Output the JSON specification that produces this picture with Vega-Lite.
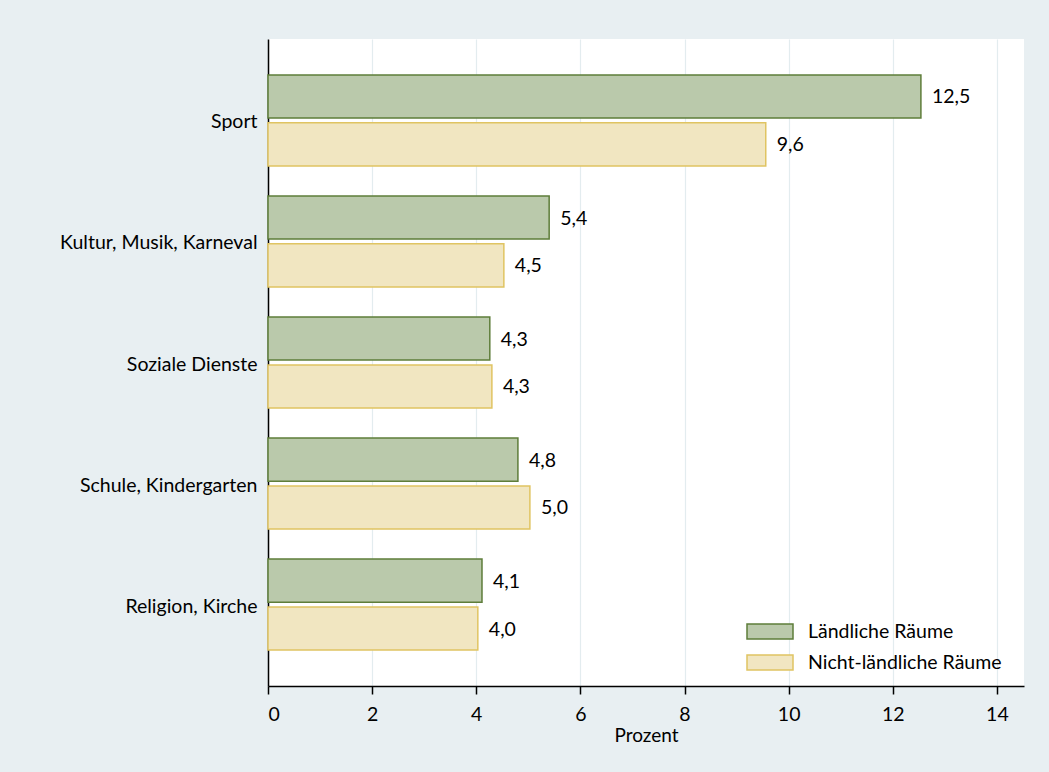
{
  "$schema": "https://vega.github.io/schema/vega-lite/v6.json",
  "width": 756,
  "height": 647,
  "autosize": {"type": "none"},
  "padding": {"left": 268, "top": 39, "right": 25, "bottom": 86},
  "background": "#e8eff2",
  "config": {
    "view": {"fill": "white", "stroke": null},
    "font": "Lato",
    "locale": {"number": {"decimal": ",", "thousands": ".", "grouping": [3], "currency": ["", " €"]}}
  },
  "data": {
    "values": [
      {"bereich": "Sport", "raum": "Ländliche Räume", "prozent": 12.54},
      {"bereich": "Sport", "raum": "Nicht-ländliche Räume", "prozent": 9.56},
      {"bereich": "Kultur, Musik, Karneval", "raum": "Ländliche Räume", "prozent": 5.4},
      {"bereich": "Kultur, Musik, Karneval", "raum": "Nicht-ländliche Räume", "prozent": 4.53},
      {"bereich": "Soziale Dienste", "raum": "Ländliche Räume", "prozent": 4.26},
      {"bereich": "Soziale Dienste", "raum": "Nicht-ländliche Räume", "prozent": 4.3},
      {"bereich": "Schule, Kindergarten", "raum": "Ländliche Räume", "prozent": 4.8},
      {"bereich": "Schule, Kindergarten", "raum": "Nicht-ländliche Räume", "prozent": 5.03},
      {"bereich": "Religion, Kirche", "raum": "Ländliche Räume", "prozent": 4.11},
      {"bereich": "Religion, Kirche", "raum": "Nicht-ländliche Räume", "prozent": 4.03}
    ]
  },
  "encoding": {
    "y": {
      "field": "bereich", "type": "nominal", "sort": null,
      "scale": {"paddingInner": 0.248, "paddingOuter": 0.297},
      "axis": {"title": null, "ticks": false, "labelFontSize": 19.5, "labelColor": "black", "labelPadding": 11, "labelLimit": 300, "labelBaseline": "middle", "labelOffset": 2, "domainColor": "black", "domainWidth": 1.5, "grid": false}
    },
    "yOffset": {
      "field": "raum", "type": "nominal", "sort": ["Ländliche Räume", "Nicht-ländliche Räume"],
      "scale": {"paddingInner": 0.1}
    },
    "x": {
      "field": "prozent", "type": "quantitative",
      "scale": {"domain": [0, 14.52], "nice": false, "zero": true},
      "axis": {"title": "Prozent", "titleFontSize": 19, "titleFontWeight": "normal", "titleColor": "black", "titlePadding": 3,
               "values": [0, 2, 4, 6, 8, 10, 12, 14], "format": "d", "labelFontSize": 19.5, "labelColor": "black", "labelPadding": 11,
               "domainColor": "black", "domainWidth": 1.5, "tickColor": "black", "tickSize": 8, "tickWidth": 1.5,
               "grid": true, "gridColor": "#e3ecef", "gridWidth": 1.2}
    }
  },
  "layer": [
    {
      "mark": {"type": "bar", "strokeWidth": 1.5},
      "encoding": {
        "fill": {
          "field": "raum", "type": "nominal",
          "scale": {"domain": ["Ländliche Räume", "Nicht-ländliche Räume"], "range": ["#bac9ab", "#f1e6c1"]},
          "legend": {"title": null, "orient": "none", "legendX": 489.5, "legendY": 580,
                     "symbolType": "M-2,-0.66H2V0.66H-2Z", "symbolSize": 529, "symbolStrokeWidth": 1.5,
                     "labelFontSize": 19.5, "labelColor": "black", "labelOffset": 25.5, "labelLimit": 400, "rowPadding": 7, "symbolOpacity": 1}
        },
        "stroke": {
          "field": "raum", "type": "nominal",
          "scale": {"domain": ["Ländliche Räume", "Nicht-ländliche Räume"], "range": ["#5e7d3a", "#e0c462"]},
          "legend": {"title": null, "orient": "none", "legendX": 489.5, "legendY": 580,
                     "symbolType": "M-2,-0.66H2V0.66H-2Z", "symbolSize": 529, "symbolStrokeWidth": 1.5,
                     "labelFontSize": 19.5, "labelColor": "black", "labelOffset": 25.5, "labelLimit": 400, "rowPadding": 7, "symbolOpacity": 1}
        }
      }
    },
    {
      "mark": {"type": "text", "align": "left", "baseline": "middle", "dx": 11, "dy": 1, "fontSize": 19.5, "color": "black"},
      "encoding": {"text": {"field": "prozent", "type": "quantitative", "format": ".1f"}}
    }
  ]
}
